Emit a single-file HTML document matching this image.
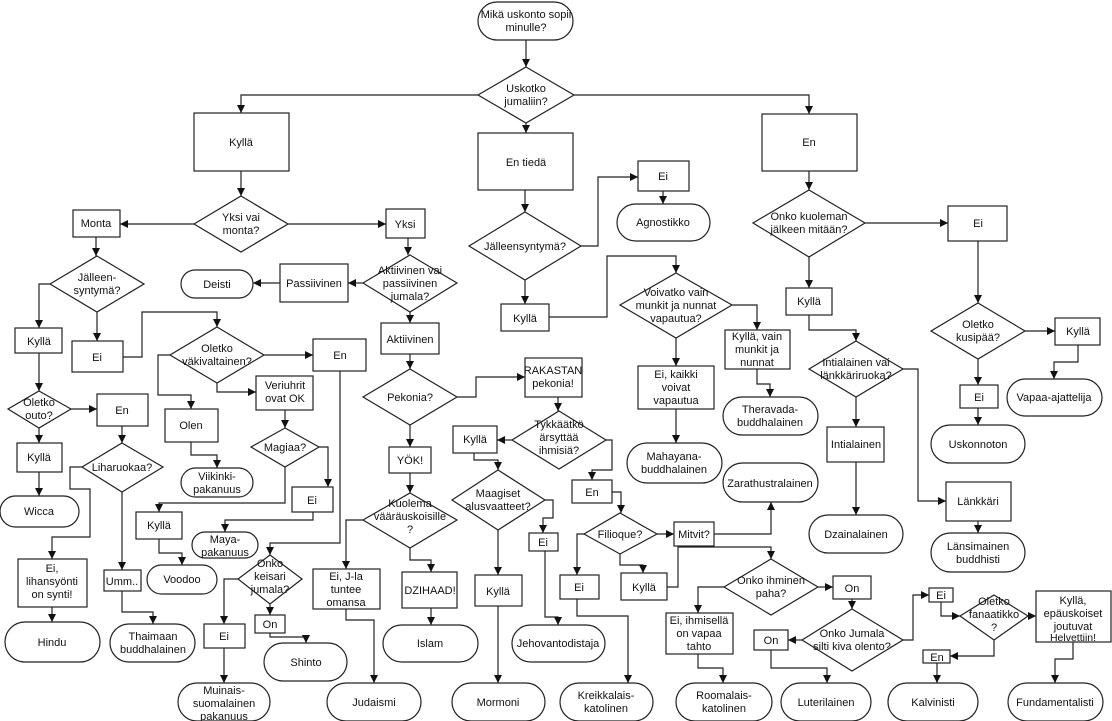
<!DOCTYPE html>
<html><head><meta charset="utf-8"><style>
html,body{margin:0;padding:0;background:#fff;width:1112px;height:721px;overflow:hidden}
svg{display:block}
text{font-family:"Liberation Sans",sans-serif;font-size:11px;fill:#111;text-anchor:middle}
.s{fill:#fff;stroke:#222;stroke-width:1.2}
.e{fill:none;stroke:#222;stroke-width:1.2;marker-end:url(#a)}
</style></head><body>
<svg width="1112" height="721" viewBox="0 0 1112 721" xmlns="http://www.w3.org/2000/svg">
<defs><marker id="a" markerUnits="userSpaceOnUse" markerWidth="9" markerHeight="9" refX="8" refY="4" orient="auto"><path d="M0,0 L8,4 L0,8 z" fill="#111"/></marker></defs>

<polyline class="e" points="526,40 526,67"/>
<polyline class="e" points="478,95 241,95 241,113"/>
<polyline class="e" points="574,95 809,95 809,114"/>
<polyline class="e" points="526,123 526,133"/>
<polyline class="e" points="525,190 525,212"/>
<polyline class="e" points="581,246 598,246 598,177 638,177"/>
<polyline class="e" points="663,191 663,204"/>
<polyline class="e" points="525,280 525,304"/>
<polyline class="e" points="549,317 607,317 607,256 676,256 676,273"/>
<polyline class="e" points="676,338 676,366"/>
<polyline class="e" points="676,409 676,443"/>
<polyline class="e" points="732,305 757,305 757,330"/>
<polyline class="e" points="757,369 757,384 770,384 770,397"/>
<polyline class="e" points="809,171 809,190"/>
<polyline class="e" points="865,223 948,223"/>
<polyline class="e" points="978,241 978,303"/>
<polyline class="e" points="1025,331 1055,331"/>
<polyline class="e" points="1078,345 1078,362 1054,362 1054,379"/>
<polyline class="e" points="978,359 978,385"/>
<polyline class="e" points="978,408 978,425"/>
<polyline class="e" points="809,257 809,288"/>
<polyline class="e" points="809,315 809,330 856,330 856,341"/>
<polyline class="e" points="903,369 918,369 918,501 946,501"/>
<polyline class="e" points="978,521 978,533"/>
<polyline class="e" points="856,397 856,427"/>
<polyline class="e" points="856,462 856,515"/>
<polyline class="e" points="241,171 241,196"/>
<polyline class="e" points="194,224 120,224"/>
<polyline class="e" points="288,224 386,224"/>
<polyline class="e" points="96,237 96,256"/>
<polyline class="e" points="50,284 39,284 39,328"/>
<polyline class="e" points="97,312 97,341"/>
<polyline class="e" points="123,357 142,357 142,312 217,312 217,327"/>
<polyline class="e" points="264,355 313,355"/>
<polyline class="e" points="217,383 217,392 256,392"/>
<polyline class="e" points="170,355 158,355 158,395 191,395 191,409"/>
<polyline class="e" points="191,442 191,455 217,455 217,468"/>
<polyline class="e" points="285,410 285,428"/>
<polyline class="e" points="319,447 328,447 328,487"/>
<polyline class="e" points="313,512 313,520 225,520 225,532"/>
<polyline class="e" points="285,467 285,503 159,503 159,512"/>
<polyline class="e" points="159,539 159,553 182,553 182,565"/>
<polyline class="e" points="340,371 340,543 270,543 270,555"/>
<polyline class="e" points="270,604 270,615"/>
<polyline class="e" points="270,633 270,637 306,637 306,643"/>
<polyline class="e" points="238,579 224,579 224,624"/>
<polyline class="e" points="224,648 224,683"/>
<polyline class="e" points="39,353 39,391"/>
<polyline class="e" points="71,409 97,409"/>
<polyline class="e" points="39,428 39,443"/>
<polyline class="e" points="39,472 39,496"/>
<polyline class="e" points="122,426 122,443"/>
<polyline class="e" points="82,467 70,467 70,489 90,489 90,537 52,537 52,559"/>
<polyline class="e" points="52,607 52,622"/>
<polyline class="e" points="122,492 122,570"/>
<polyline class="e" points="122,591 122,612 153,612 153,624"/>
<polyline class="e" points="408,238 408,255"/>
<polyline class="e" points="363,283 348,283"/>
<polyline class="e" points="280,283 253,283"/>
<polyline class="e" points="410,312 410,323"/>
<polyline class="e" points="410,354 410,369"/>
<polyline class="e" points="457,397 476,397 476,377 525,377"/>
<polyline class="e" points="558,397 558,411"/>
<polyline class="e" points="512,440 497,440"/>
<polyline class="e" points="474,453 474,460 498,460 498,470"/>
<polyline class="e" points="545,500 553,500 553,518 543,518 543,533"/>
<polyline class="e" points="545,551 545,617 558,617 558,625"/>
<polyline class="e" points="498,530 498,575"/>
<polyline class="e" points="498,606 498,683"/>
<polyline class="e" points="606,440 612,440 612,470 592,470 592,480"/>
<polyline class="e" points="612,492 621,492 621,513"/>
<polyline class="e" points="657,534 674,534"/>
<polyline class="e" points="714,534 771,534 771,502"/>
<polyline class="e" points="584,534 577,534 577,575"/>
<polyline class="e" points="577,599 577,616 628,616 628,683"/>
<polyline class="e" points="620,554 620,565 643,565 643,573"/>
<polyline class="e" points="667,587 678,587 678,547 771,547 771,559"/>
<polyline class="e" points="818,587 833,587"/>
<polyline class="e" points="852,599 852,609"/>
<polyline class="e" points="724,587 698,587 698,613"/>
<polyline class="e" points="698,654 698,668 723,668 723,683"/>
<polyline class="e" points="802,640 788,640"/>
<polyline class="e" points="771,650 771,668 827,668 827,683"/>
<polyline class="e" points="903,640 913,640 913,595 929,595"/>
<polyline class="e" points="941,602 941,616 960,616"/>
<polyline class="e" points="1028,616 1036,616"/>
<polyline class="e" points="1073,642 1073,659 1055,659 1055,683"/>
<polyline class="e" points="994,640 994,656 950,656"/>
<polyline class="e" points="937,663 937,683"/>
<polyline class="e" points="363,520 346,520 346,569"/>
<polyline class="e" points="346,609 346,620 374,620 374,683"/>
<polyline class="e" points="410,548 410,560 431,560 431,572"/>
<polyline class="e" points="431,608 431,625"/>
<polyline class="e" points="410,425 410,447"/>
<polyline class="e" points="410,473 410,493"/>

<rect class="s" x="478" y="2" width="95" height="38" rx="19"/><text x="526" y="18">Mikä uskonto sopii</text><text x="526" y="31">minulle?</text>
<polygon class="s" points="526,67 574,95 526,123 478,95"/><text x="526" y="92">Uskotko</text><text x="526" y="105">jumaliin?</text>
<rect class="s" x="194" y="113" width="95" height="58"/><text x="241" y="146">Kyllä</text>
<rect class="s" x="478" y="133" width="95" height="57"/><text x="526" y="166">En tiedä</text>
<rect class="s" x="762" y="114" width="95" height="57"/><text x="809" y="146">En</text>

<polygon class="s" points="525,212 581,246 525,280 469,246"/><text x="525" y="250">Jälleensyntymä?</text>
<rect class="s" x="638" y="161" width="51" height="30"/><text x="663" y="180">Ei</text>
<rect class="s" x="617" y="204" width="93" height="37" rx="18.5"/><text x="663" y="226">Agnostikko</text>
<rect class="s" x="501" y="304" width="48" height="27"/><text x="525" y="322">Kyllä</text>
<polygon class="s" points="676,273 732,305 676,338 620,305"/><text x="676" y="296">Voivatko vain</text><text x="676" y="309">munkit ja nunnat</text><text x="676" y="322">vapautua?</text>
<rect class="s" x="638" y="366" width="76" height="43"/><text x="676" y="378">Ei, kaikki</text><text x="676" y="391">voivat</text><text x="676" y="404">vapautua</text>
<rect class="s" x="627" y="443" width="95" height="40" rx="20"/><text x="674" y="460">Mahayana-</text><text x="674" y="473">buddhalainen</text>
<rect class="s" x="725" y="330" width="65" height="39"/><text x="757" y="340">Kyllä, vain</text><text x="757" y="353">munkit ja</text><text x="757" y="366">nunnat</text>
<rect class="s" x="723" y="397" width="95" height="38" rx="19"/><text x="770" y="413">Theravada-</text><text x="770" y="426">buddhalainen</text>

<polygon class="s" points="809,190 865,223 809,257 753,223"/><text x="809" y="220">Onko kuoleman</text><text x="809" y="233">jälkeen mitään?</text>
<rect class="s" x="948" y="206" width="59" height="35"/><text x="978" y="227">Ei</text>
<polygon class="s" points="978,303 1025,331 978,359 931,331"/><text x="978" y="328">Oletko</text><text x="978" y="341">kusipää?</text>
<rect class="s" x="1055" y="318" width="45" height="27"/><text x="1078" y="335">Kyllä</text>
<rect class="s" x="1007" y="379" width="95" height="37" rx="18.5"/><text x="1054" y="401">Vapaa-ajattelija</text>
<rect class="s" x="960" y="385" width="38" height="23"/><text x="979" y="401">Ei</text>
<rect class="s" x="931" y="425" width="94" height="38" rx="19"/><text x="978" y="448">Uskonnoton</text>
<rect class="s" x="786" y="288" width="46" height="27"/><text x="809" y="305">Kyllä</text>
<polygon class="s" points="856,341 903,369 856,397 809,369"/><text x="856" y="366">Intialainen vai</text><text x="856" y="379">länkkäriruoka?</text>
<rect class="s" x="827" y="427" width="57" height="35"/><text x="856" y="448">Intialainen</text>
<rect class="s" x="809" y="515" width="94" height="38" rx="19"/><text x="856" y="538">Dzainalainen</text>
<rect class="s" x="946" y="482" width="65" height="39"/><text x="978" y="505">Länkkäri</text>
<rect class="s" x="931" y="533" width="94" height="39" rx="19.5"/><text x="978" y="550">Länsimainen</text><text x="978" y="563">buddhisti</text>

<polygon class="s" points="241,196 288,224 241,252 194,224"/><text x="241" y="221">Yksi vai</text><text x="241" y="234">monta?</text>
<rect class="s" x="73" y="210" width="47" height="27"/><text x="96" y="227">Monta</text>
<rect class="s" x="386" y="209" width="39" height="29"/><text x="405" y="228">Yksi</text>
<polygon class="s" points="97,256 144,284 97,312 50,284"/><text x="97" y="281">Jälleen-</text><text x="97" y="294">syntymä?</text>
<rect class="s" x="15" y="328" width="47" height="25"/><text x="39" y="345">Kyllä</text>
<rect class="s" x="72" y="341" width="51" height="31"/><text x="97" y="361">Ei</text>
<polygon class="s" points="217,327 264,355 217,383 170,355"/><text x="217" y="352">Oletko</text><text x="217" y="365">väkivaltainen?</text>
<rect class="s" x="313" y="339" width="53" height="32"/><text x="340" y="359">En</text>
<rect class="s" x="256" y="376" width="57" height="34"/><text x="285" y="389">Veriuhrit</text><text x="285" y="402">ovat OK</text>
<rect class="s" x="165" y="409" width="53" height="33"/><text x="191" y="429">Olen</text>
<rect class="s" x="181" y="468" width="72" height="29" rx="14.5"/><text x="217" y="480">Viikinki-</text><text x="217" y="493">pakanuus</text>
<polygon class="s" points="285,428 319,447 285,467 251,447"/><text x="285" y="451">Magiaa?</text>
<rect class="s" x="292" y="487" width="41" height="25"/><text x="312" y="504">Ei</text>
<rect class="s" x="192" y="532" width="66" height="26" rx="13"/><text x="225" y="543">Maya-</text><text x="225" y="556">pakanuus</text>
<rect class="s" x="136" y="512" width="46" height="27"/><text x="159" y="529">Kyllä</text>
<rect class="s" x="147" y="565" width="70" height="29" rx="14.5"/><text x="182" y="583">Voodoo</text>
<polygon class="s" points="270,555 302,579 270,604 238,579"/><text x="270" y="567">Onko</text><text x="270" y="580">keisari</text><text x="270" y="593">jumala?</text>
<rect class="s" x="255" y="615" width="30" height="18"/><text x="270" y="628">On</text>
<rect class="s" x="264" y="643" width="83" height="38" rx="19"/><text x="306" y="666">Shinto</text>
<rect class="s" x="204" y="624" width="41" height="24"/><text x="224" y="640">Ei</text>
<rect class="s" x="178" y="683" width="92" height="38" rx="19"/><text x="224" y="694">Muinais-</text><text x="224" y="707">suomalainen</text><text x="224" y="720">pakanuus</text>
<polygon class="s" points="39,391 71,409 39,428 8,409"/><text x="39" y="406">Oletko</text><text x="39" y="419">outo?</text>
<rect class="s" x="97" y="394" width="51" height="32"/><text x="122" y="414">En</text>
<rect class="s" x="17" y="443" width="45" height="29"/><text x="39" y="461">Kyllä</text>
<rect class="s" x="0" y="496" width="79" height="31" rx="15.5"/><text x="39" y="515">Wicca</text>
<polygon class="s" points="122,443 163,467 122,492 82,467"/><text x="122" y="471">Liharuokaa?</text>
<rect class="s" x="18" y="559" width="69" height="48"/><text x="52" y="572">Ei,</text><text x="52" y="585">lihansyönti</text><text x="52" y="598">on synti!</text>
<rect class="s" x="5" y="622" width="95" height="40" rx="20"/><text x="52" y="646">Hindu</text>
<rect class="s" x="104" y="570" width="37" height="21"/><text x="122" y="585">Umm..</text>
<rect class="s" x="110" y="624" width="85" height="38" rx="19"/><text x="153" y="640">Thaimaan</text><text x="153" y="653">buddhalainen</text>

<polygon class="s" points="410,255 457,283 410,312 363,283"/><text x="410" y="274">Aktiivinen vai</text><text x="410" y="287">passiivinen</text><text x="410" y="300">jumala?</text>
<rect class="s" x="280" y="264" width="68" height="38"/><text x="314" y="287">Passiivinen</text>
<rect class="s" x="181" y="270" width="72" height="28" rx="14"/><text x="217" y="288">Deisti</text>
<rect class="s" x="381" y="323" width="58" height="31"/><text x="410" y="343">Aktiivinen</text>
<polygon class="s" points="410,369 457,397 410,425 363,397"/><text x="410" y="401">Pekonia?</text>
<rect class="s" x="525" y="358" width="57" height="39"/><text x="553" y="374">RAKASTAN</text><text x="553" y="387">pekonia!</text>
<polygon class="s" points="559,411 606,440 559,469 512,440"/><text x="559" y="428">Tykkäätkö</text><text x="559" y="441">ärsyttää</text><text x="559" y="454">ihmisiä?</text>
<rect class="s" x="453" y="426" width="44" height="27"/><text x="475" y="443">Kyllä</text>
<polygon class="s" points="498,470 545,500 498,530 452,500"/><text x="498" y="497">Maagiset</text><text x="498" y="510">alusvaatteet?</text>
<rect class="s" x="529" y="533" width="29" height="18"/><text x="543" y="546">Ei</text>
<rect class="s" x="475" y="575" width="47" height="31"/><text x="498" y="595">Kyllä</text>
<rect class="s" x="452" y="683" width="93" height="38" rx="19"/><text x="498" y="706">Mormoni</text>
<rect class="s" x="512" y="625" width="93" height="37" rx="18.5"/><text x="558" y="647">Jehovantodistaja</text>
<rect class="s" x="389" y="447" width="42" height="26"/><text x="410" y="464">YÖK!</text>
<polygon class="s" points="410,493 457,520 410,548 363,520"/><text x="410" y="507">Kuolema</text><text x="410" y="520">vääräuskoisille</text><text x="410" y="533">?</text>
<rect class="s" x="313" y="569" width="67" height="40"/><text x="346" y="580">Ei, J-la</text><text x="346" y="593">tuntee</text><text x="346" y="606">omansa</text>
<rect class="s" x="402" y="572" width="55" height="36"/><text x="430" y="594">DZIHAAD!</text>
<rect class="s" x="383" y="625" width="95" height="37" rx="18.5"/><text x="430" y="647">Islam</text>
<rect class="s" x="327" y="683" width="94" height="38" rx="19"/><text x="374" y="706">Judaismi</text>

<rect class="s" x="572" y="480" width="40" height="23"/><text x="592" y="496">En</text>
<polygon class="s" points="620,513 657,534 620,554 584,534"/><text x="620" y="538">Filioque?</text>
<rect class="s" x="674" y="522" width="40" height="24"/><text x="694" y="538">Mitvit?</text>
<rect class="s" x="723" y="463" width="95" height="39" rx="19.5"/><text x="770" y="487">Zarathustralainen</text>
<rect class="s" x="560" y="575" width="39" height="24"/><text x="579" y="591">Ei</text>
<rect class="s" x="560" y="683" width="93" height="38" rx="19"/><text x="606" y="699">Kreikkalais-</text><text x="606" y="712">katolinen</text>
<rect class="s" x="621" y="573" width="46" height="27"/><text x="644" y="591">Kyllä</text>
<polygon class="s" points="771,559 818,587 771,615 724,587"/><text x="771" y="584">Onko ihminen</text><text x="771" y="597">paha?</text>
<rect class="s" x="833" y="576" width="38" height="23"/><text x="852" y="592">On</text>
<polygon class="s" points="852,609 903,640 852,671 802,640"/><text x="852" y="637">Onko Jumala</text><text x="852" y="650">silti kiva olento?</text>
<rect class="s" x="666" y="613" width="67" height="41"/><text x="699" y="624">Ei, ihmisellä</text><text x="699" y="637">on vapaa</text><text x="699" y="650">tahto</text>
<rect class="s" x="676" y="683" width="96" height="38" rx="19"/><text x="724" y="699">Roomalais-</text><text x="724" y="712">katolinen</text>
<rect class="s" x="754" y="630" width="34" height="20"/><text x="771" y="644">On</text>
<rect class="s" x="781" y="683" width="90" height="38" rx="19"/><text x="826" y="706">Luterilainen</text>
<rect class="s" x="929" y="588" width="24" height="14"/><text x="941" y="599">Ei</text>
<polygon class="s" points="994,595 1028,616 994,640 960,616"/><text x="994" y="605">Oletko</text><text x="994" y="618">fanaatikko</text><text x="994" y="631">?</text>
<rect class="s" x="1036" y="591" width="75" height="51"/><text x="1073" y="604">Kyllä,</text><text x="1073" y="617">epäuskoiset</text><text x="1073" y="630">joutuvat</text><text x="1073" y="641" style="font-size:10.5px">Helvettiin!</text>
<rect class="s" x="1008" y="683" width="95" height="38" rx="19"/><text x="1055" y="706">Fundamentalisti</text>
<rect class="s" x="923" y="650" width="27" height="13"/><text x="937" y="661">En</text>
<rect class="s" x="888" y="683" width="90" height="38" rx="19"/><text x="933" y="706">Kalvinisti</text>
</svg>
</body></html>
